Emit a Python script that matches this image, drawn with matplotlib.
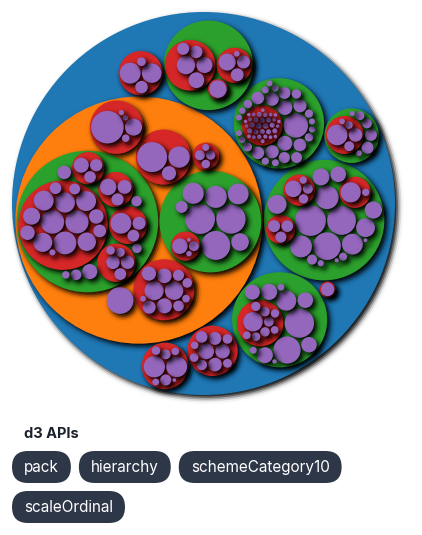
from math import erf, sqrt
import matplotlib
matplotlib.use("Agg")
import matplotlib.pyplot as plt
from matplotlib.patches import Circle, FancyBboxPatch
from matplotlib.collections import PatchCollection
from matplotlib.colors import to_rgba

# flare class hierarchy: numbers are leaf sizes, lists are packages
cluster = [3938, 3812, 6714, 743]
graph = [3534, 5731, 7840, 5914, 3416]
optimization = [7074]
analytics = [cluster, graph, optimization]

interpolate = [1983, 2047, 1375, 8746, 2202, 1382, 1629, 1675, 2042]
animate = [17010, 5842, interpolate, 1041, 5176, 449, 5593, 5534, 9201, 19975, 1116, 6006]

converters = [721, 4294, 9800, 1314, 2220]
data = [converters, 1759, 2165, 586, 3331, 772, 3322]

display = [8833, 1732, 3623, 10066]
flex = [4116]
physics = [1082, 1336, 319, 10498, 2822, 9983, 2213, 1681]

methods = [593, 330, 287, 277, 292, 595, 594, 460, 603, 625, 748, 461, 597, 619, 283, 283,
           591, 603, 599, 386, 323, 307, 772, 296, 363, 600, 280, 307, 335, 299, 354, 264]
query = [1616, 1027, 3891, 891, 2893, 5103, 3677, 781, 4141, 933, 5130, 3617, 3240, 2732,
         2039, 1214, 3748, 843, methods, 843, 1554, 970, 13896, 1594, 4130, 791, 1124, 1876, 1101]

scale = [2105, 1316, 3151, 3770, 2435, 4839, 1756, 4268, 1821, 5833]

heap = [9354, 1233]
matrix = [3165, 2815, 3366]
palette = [6367, 1229, 2059, 2291]
util = [8258, 10001, 8217, 12555, 2324, 10993, heap, 335, 383, 874, matrix, 17705, 1486,
        palette, 5559, 19118, 6887, 6557, 22026]

axis = [1302, 24593, 652, 636, 6703]
controls = [2138, 3824, 1353, 4665, 2649, 2832, 4896, 763, 5222, 7862, 8435]
render = [698, 5569, 353, 2247]
vis_data = [20544, 19788, 10349, 3301, 19382, render, 11275, 7147, 9930]
events = [2313, 1880, 1701, 1117]
legend = [20859, 4614, 10530]
distortion = [4461, 6314, 3444]
encoder = [3179, 4060, 4138, 1690, 1830]
filter_ = [5219, 3165, 3509]
label = [9956, 3899, 3202]
layout = [6725, 3727, 9317, 12003, 4853, 8411, 4864, 3174, 7881, 12870, 2728, 12348, 870, 9121, 9191]
operator = [distortion, encoder, filter_, 1286, label, layout, 2490, 5248, 4190, 2581, 2023]
vis = [axis, controls, vis_data, events, legend, operator, 16540]

flare = [analytics, animate, data, display, flex, physics, query, scale, util, vis]

scheme_category10 = ['#1f77b4', '#ff7f0e', '#2ca02c', '#d62728', '#9467bd',
                     '#8c564b', '#e377c2', '#7f7f7f', '#bcbd22', '#17becf']
api_tags = ['pack', 'hierarchy', 'schemeCategory10', 'scaleOrdinal']


class Node:
    def __init__(self, item, parent=None):
        self.parent = parent
        self.x = self.y = self.r = 0.0
        if isinstance(item, list):
            self.children = [Node(c, self) for c in item]
            self.value = sum(c.value for c in self.children)
            self.height = 1 + max(c.height for c in self.children)
            self.children.sort(key=lambda c: -c.value)
        else:
            self.children = None
            self.value = item
            self.height = 0


class Link:
    def __init__(self, c):
        self.c = c
        self.next = None
        self.prev = None


def place(b, a, c):
    dx, dy = b.x - a.x, b.y - a.y
    d2 = dx * dx + dy * dy
    if d2:
        a2 = (a.r + c.r) ** 2
        b2 = (b.r + c.r) ** 2
        if a2 > b2:
            x = (d2 + b2 - a2) / (2 * d2)
            y = sqrt(max(0, b2 / d2 - x * x))
            c.x = b.x - x * dx - y * dy
            c.y = b.y - x * dy + y * dx
        else:
            x = (d2 + a2 - b2) / (2 * d2)
            y = sqrt(max(0, a2 / d2 - x * x))
            c.x = a.x + x * dx - y * dy
            c.y = a.y + x * dy + y * dx
    else:
        c.x = a.x + c.r
        c.y = a.y


def intersects(a, b):
    dr = a.r + b.r - 1e-6
    dx, dy = b.x - a.x, b.y - a.y
    return dr > 0 and dr * dr > dx * dx + dy * dy


def score(node):
    a, b = node.c, node.next.c
    ab = a.r + b.r
    dx = (a.x * b.r + b.x * a.r) / ab
    dy = (a.y * b.r + b.y * a.r) / ab
    return dx * dx + dy * dy


class Disc:
    def __init__(self, x, y, r):
        self.x, self.y, self.r = x, y, r


def encloses_not(a, b):
    dr = a.r - b.r
    dx, dy = b.x - a.x, b.y - a.y
    return dr < 0 or dr * dr < dx * dx + dy * dy


def encloses_weak(a, b):
    dr = a.r - b.r + max(a.r, b.r, 1) * 1e-9
    dx, dy = b.x - a.x, b.y - a.y
    return dr > 0 and dr * dr > dx * dx + dy * dy


def encloses_weak_all(a, B):
    return all(encloses_weak(a, p) for p in B)


def basis2(a, b):
    x21, y21, r21 = b.x - a.x, b.y - a.y, b.r - a.r
    l = sqrt(x21 * x21 + y21 * y21)
    return Disc((a.x + b.x + x21 / l * r21) / 2, (a.y + b.y + y21 / l * r21) / 2, (l + a.r + b.r) / 2)


def basis3(a, b, c):
    x1, y1, r1 = a.x, a.y, a.r
    x2, y2, r2 = b.x, b.y, b.r
    x3, y3, r3 = c.x, c.y, c.r
    a2, a3 = x1 - x2, x1 - x3
    b2, b3 = y1 - y2, y1 - y3
    c2, c3 = r2 - r1, r3 - r1
    d1 = x1 * x1 + y1 * y1 - r1 * r1
    d2 = d1 - x2 * x2 - y2 * y2 + r2 * r2
    d3 = d1 - x3 * x3 - y3 * y3 + r3 * r3
    ab = a3 * b2 - a2 * b3
    xa = (b2 * d3 - b3 * d2) / (ab * 2) - x1
    xb = (b3 * c2 - b2 * c3) / ab
    ya = (a3 * d2 - a2 * d3) / (ab * 2) - y1
    yb = (a2 * c3 - a3 * c2) / ab
    A = xb * xb + yb * yb - 1
    Bq = 2 * (r1 + xa * xb + ya * yb)
    C = xa * xa + ya * ya - r1 * r1
    r = -((Bq + sqrt(max(0, Bq * Bq - 4 * A * C))) / (2 * A) if abs(A) > 1e-6 else C / Bq)
    return Disc(x1 + xa + xb * r, y1 + ya + yb * r, r)


def basis(B):
    if len(B) == 1:
        return Disc(B[0].x, B[0].y, B[0].r)
    if len(B) == 2:
        return basis2(B[0], B[1])
    return basis3(B[0], B[1], B[2])


def extend_basis(B, p):
    if encloses_weak_all(p, B):
        return [p]
    for q in B:
        if encloses_not(p, q) and encloses_weak_all(basis2(q, p), B):
            return [q, p]
    for i in range(len(B) - 1):
        for j in range(i + 1, len(B)):
            if (encloses_not(basis2(B[i], B[j]), p) and encloses_not(basis2(B[i], p), B[j])
                    and encloses_not(basis2(B[j], p), B[i])
                    and encloses_weak_all(basis3(B[i], B[j], p), B)):
                return [B[i], B[j], p]
    return B + [p]


def enclose(circles):
    i, B, e = 0, [], None
    while i < len(circles):
        p = circles[i]
        if e is not None and encloses_weak(e, p):
            i += 1
        else:
            B = extend_basis(B, p)
            e = basis(B)
            i = 0
    return e


def pack_siblings(circles):
    n = len(circles)
    a = circles[0]
    a.x, a.y = 0.0, 0.0
    if n == 1:
        return a.r
    b = circles[1]
    a.x, b.x, b.y = -b.r, a.r, 0.0
    if n == 2:
        return a.r + b.r
    place(b, a, circles[2])
    a, b, c = Link(a), Link(b), Link(circles[2])
    a.next = c.prev = b
    b.next = a.prev = c
    c.next = b.prev = a
    i = 3
    while i < n:
        place(a.c, b.c, circles[i])
        c = Link(circles[i])
        j, k, sj, sk = b.next, a.prev, b.c.r, a.c.r
        hit = False
        while True:
            if sj <= sk:
                if intersects(j.c, c.c):
                    b = j
                    a.next, b.prev = b, a
                    hit = True
                    break
                sj += j.c.r
                j = j.next
            else:
                if intersects(k.c, c.c):
                    a = k
                    a.next, b.prev = b, a
                    hit = True
                    break
                sk += k.c.r
                k = k.prev
            if j is k.next:
                break
        if hit:
            continue
        c.prev, c.next = a, b
        a.next = c
        b.prev = c
        b = c
        aa = score(a)
        c = c.next
        while c is not b:
            ca = score(c)
            if ca < aa:
                a, aa = c, ca
            c = c.next
        b = a.next
        i += 1
    chain = [b.c]
    c = b.next
    while c is not b:
        chain.append(c.c)
        c = c.next
    e = enclose(chain)
    for cc in circles:
        cc.x -= e.x
        cc.y -= e.y
    return e.r


def post_order(node):
    if node.children:
        for c in node.children:
            yield from post_order(c)
    yield node


def breadth_first(node):
    queue = [node]
    while queue:
        n = queue.pop(0)
        yield n
        if n.children:
            queue.extend(n.children)


def pack(root, size, padding):
    for n in post_order(root):
        if not n.children:
            n.r = sqrt(n.value)
    for n in post_order(root):
        if n.children:
            n.r = pack_siblings(n.children)
    pad = padding * root.r / size
    for n in post_order(root):
        if n.children:
            for c in n.children:
                c.r += pad
            e = pack_siblings(n.children)
            for c in n.children:
                c.r -= pad
            n.r = e + pad
    k = size / (2 * root.r)
    for n in breadth_first(root):
        n.r *= k
        if n.parent is not None:
            n.x = n.parent.x + k * n.x
            n.y = n.parent.y + k * n.y
        else:
            n.x = n.y = size / 2


def phi(x):
    return 0.5 * (1 + erf(x / sqrt(2)))


def shadow_rings(R, sigma=2.5, amp=0.95, steps=8):
    # stack of translucent discs that fakes a gaussian drop shadow
    radii = [R + 2.6 * sigma - i * 4.6 * sigma / (steps - 1) for i in range(steps)]
    radii = [r for r in radii if r > 0.3]
    peak = 1 - 2.718281828 ** (-R * R / (2 * sigma * sigma))
    out, prev = [], 0.0
    for i, rho in enumerate(radii):
        inner = radii[i + 1] if i + 1 < len(radii) else 0.0
        T = amp * min(peak, phi((R - (rho + inner) / 2) / sigma))
        if T <= prev:
            continue
        out.append((rho, 1 - (1 - T) / (1 - prev)))
        prev = T
    return out


root = Node(flare)
size, left, top = 383.0, 12.0, 12.0
pack(root, size, 1.5)

color_of = {}
patches, colors = [], []
for n in breadth_first(root):
    if n.height not in color_of:
        color_of[n.height] = scheme_category10[len(color_of) % 10]
    cx, cy = left + n.x, top + n.y
    for rho, alpha in shadow_rings(n.r):
        patches.append(Circle((cx + 3, cy + 3), rho))
        colors.append((0, 0, 0, alpha))
    patches.append(Circle((cx, cy), n.r))
    colors.append(to_rgba(color_of[n.height]))

fig = plt.figure(figsize=(4.22, 5.35), dpi=100)
ax = fig.add_axes([0, 0, 1, 1])
ax.set_xlim(0, 422)
ax.set_ylim(535, 0)
ax.axis('off')
ax.add_collection(PatchCollection(patches, facecolors=colors, edgecolors='none', linewidths=0))

plt.rcParams['font.family'] = ['Inter', 'DejaVu Sans']
ax.text(24, 438, 'd3 APIs', fontsize=10.5, fontweight='bold', color='#1a202c', va='baseline')

renderer = fig.canvas.get_renderer()
x, row = 12.0, 0
pill_h, pad_x, gap = 32.0, 12.0, 8.0
for tag in api_tags:
    t = ax.text(0, 0, tag, fontsize=11, color='white', va='baseline', ha='center', zorder=5)
    w = t.get_window_extent(renderer).width + 2 * pad_x
    if x + w > 410:
        x, row = 12.0, row + 1
    y0 = 451 + row * (pill_h + 8)
    ax.add_patch(FancyBboxPatch((x, y0), w, pill_h, boxstyle='round,pad=0,rounding_size=16',
                                facecolor='#2d3748', edgecolor='none', zorder=4))
    t.set_position((x + w / 2, y0 + 21))
    x += w + gap

fig.savefig('out.png', dpi=100)
